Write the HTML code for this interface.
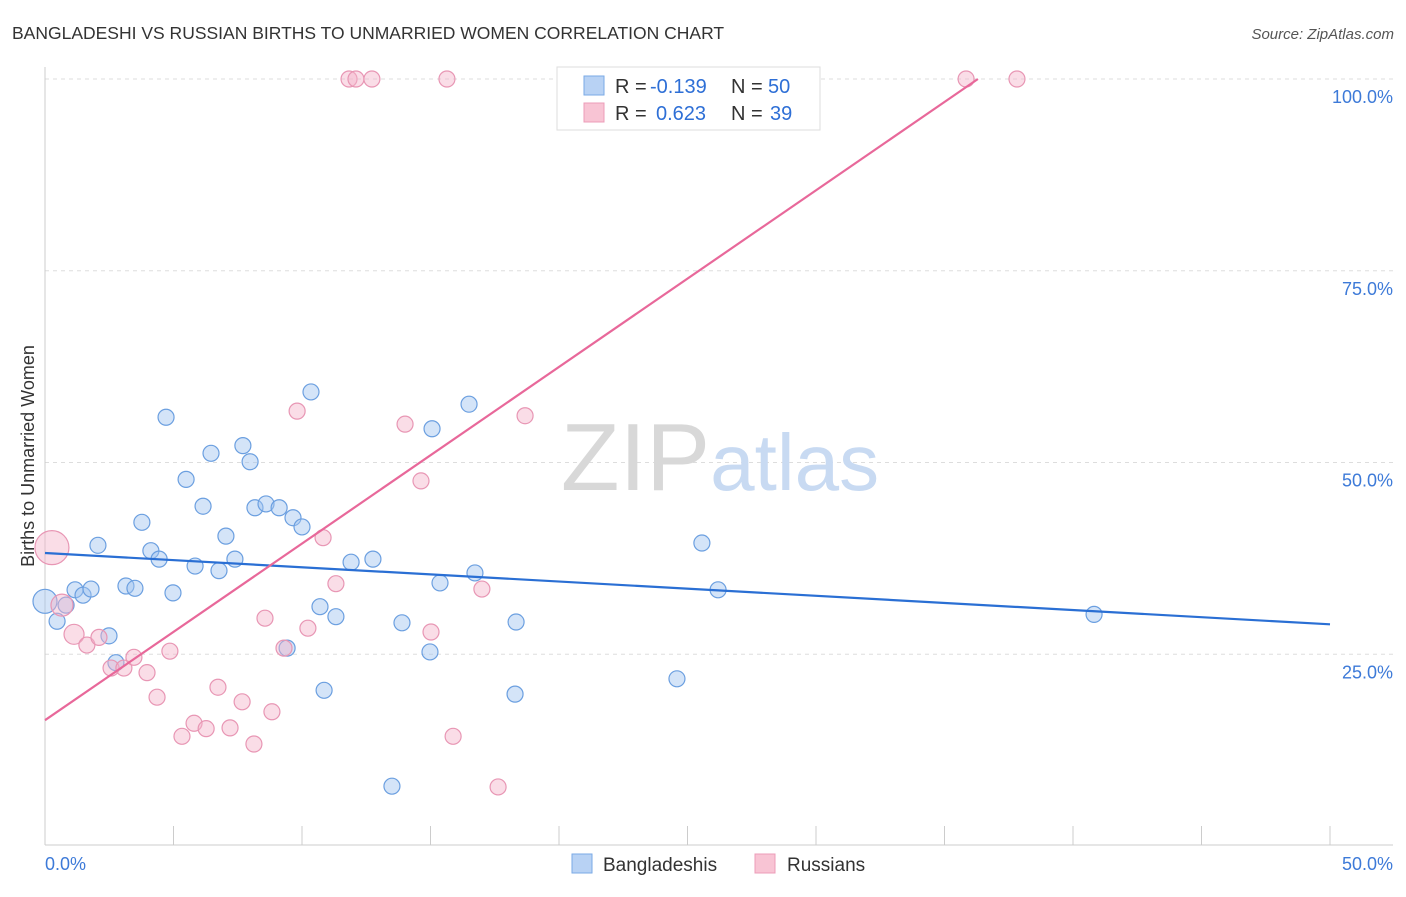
<!DOCTYPE html>
<html><head><meta charset="utf-8"><style>
body{margin:0;background:#fff;font-family:"Liberation Sans",sans-serif;}
svg text{font-family:"Liberation Sans",sans-serif;}
</style></head><body>
<svg id="chart" width="1406" height="892" xmlns="http://www.w3.org/2000/svg">
<text x="12" y="39" font-size="17.5" fill="#333">BANGLADESHI VS RUSSIAN BIRTHS TO UNMARRIED WOMEN CORRELATION CHART</text>
<text x="1394" y="39" font-size="15" fill="#555" text-anchor="end" font-style="italic">Source: ZipAtlas.com</text>
<g id="grid"></g>
<text x="720" y="490" font-size="96" text-anchor="middle" fill="#ddd" font-family="Liberation Serif"><tspan fill="#d8d8d8">ZIP</tspan><tspan fill="#c8daf2" font-family="Liberation Sans" font-size="80">atlas</tspan></text>
<g id="points"></g>
<g id="lines"></g>
<text transform="translate(34,456) rotate(-90)" font-size="18" fill="#333" text-anchor="middle">Births to Unmarried Women</text>
<g font-size="20">
<rect x="557" y="67" width="263" height="63" fill="#fff" stroke="#ddd"/>
<rect x="584" y="76" width="20" height="19" fill="#b8d2f4" stroke="#7aaae6"/>
<rect x="584" y="103" width="20" height="19" fill="#f8c4d4" stroke="#ec9cb8"/>
<text x="615" y="93" fill="#333">R =</text>
<text x="650" y="93" fill="#2e6fd6">-0.139</text>
<text x="731" y="93" fill="#333">N =</text>
<text x="768" y="93" fill="#2e6fd6">50</text>
<text x="615" y="120" fill="#333">R =</text>
<text x="656" y="120" fill="#2e6fd6">0.623</text>
<text x="731" y="120" fill="#333">N =</text>
<text x="770" y="120" fill="#2e6fd6">39</text>
</g>
<g>
<rect x="572" y="854" width="20" height="19" fill="#b8d2f4" stroke="#7aaae6"/>
<text x="603" y="871" font-size="19" fill="#333">Bangladeshis</text>
<rect x="755" y="854" width="20" height="19" fill="#f8c4d4" stroke="#ec9cb8"/>
<text x="787" y="871" font-size="19" fill="#333">Russians</text>
</g>
</svg>
<script>
const xTicks=[0,5,10,15,20,25,30,35,40,45,50];
const yTicks=[25,50,75,100];
const yTickLabels=["25.0%","50.0%","75.0%","100.0%"];
const xTickLabels=["0.0%","50.0%"];
const blueX=[0.0,0.47,0.82,1.17,1.48,1.79,2.06,2.49,2.76,3.15,3.50,3.77,4.12,4.44,4.71,4.98,5.49,5.84,6.15,6.46,6.77,7.04,7.39,7.70,7.98,8.17,8.60,9.11,9.42,9.65,10.0,10.35,10.70,10.86,11.32,11.91,12.76,13.50,13.89,14.98,15.06,15.37,16.50,16.73,18.29,18.33,24.59,25.56,26.19,40.82];
const blueY=[31.9,29.3,31.4,33.4,32.7,33.5,39.2,27.4,23.9,33.9,33.6,42.2,38.5,37.4,55.9,33.0,47.8,36.5,44.3,51.2,35.9,40.4,37.4,52.2,50.1,44.1,44.6,44.1,25.8,42.8,41.6,59.2,31.2,20.3,29.9,37.0,37.4,7.8,29.1,25.3,54.4,34.3,57.6,35.6,19.8,29.2,21.8,39.5,33.4,30.2];
const pinkX=[0.27,0.66,1.13,1.63,2.10,2.57,3.07,3.46,3.97,4.36,4.86,5.33,5.80,6.27,6.73,7.20,7.67,8.13,8.56,8.83,9.30,9.81,10.23,10.82,11.32,11.83,12.10,12.72,14.01,14.63,15.02,15.64,15.88,17.0,17.63,18.68,20.43,35.84,37.82];
const pinkY=[38.9,31.4,27.6,26.2,27.2,23.2,23.2,24.6,22.6,19.4,25.4,14.3,16.0,15.3,20.7,15.4,18.8,13.3,29.7,17.5,25.8,56.7,28.4,40.2,34.2,100,100,100,55.0,47.6,27.9,100,14.3,33.5,7.7,56.1,100,100,100];
const blueFit=[38.2,28.9];
const pinkFit=[16.4,100];
const pinkFitEndX=36.3;
const NS="http://www.w3.org/2000/svg";
const X=v=>45+v/50*1285, Y=v=>846-v/100*767;
function mk(t,a,p){const e=document.createElementNS(NS,t);for(const k in a)e.setAttribute(k,a[k]);p.appendChild(e);return e;}
const grid=document.getElementById('grid');
yTicks.forEach((t,i)=>{
 const l=mk('line',{x1:45,x2:1393,y1:Y(t),y2:Y(t),stroke:'#ddd','stroke-dasharray':'4,4'},grid);
 
 
 const tx=mk('text',{x:1393,y:Y(t)+24,'font-size':18,fill:'#3d7ad8','text-anchor':'end'},grid);
 tx.textContent=yTickLabels[i];
 
 
});
const ax=mk('line',{x1:45,x2:45,y1:67,y2:845,stroke:'#ccc'},grid);


const bx=mk('line',{x1:45,x2:1393,y1:845,y2:845,stroke:'#ccc'},grid);


xTicks.forEach(t=>{
 const l=mk('line',{x1:X(t),x2:X(t),y1:826,y2:845,stroke:'#ccc'},grid);
 
 
});
const xl0=mk('text',{x:45,y:870,'font-size':18,fill:'#3d7ad8'},grid);xl0.textContent=xTickLabels[0];


const xl1=mk('text',{x:1393,y:870,'font-size':18,fill:'#3d7ad8','text-anchor':'end'},grid);xl1.textContent=xTickLabels[1];


const pts=document.getElementById('points');
blueX.forEach((x,i)=>{
 const c=mk('circle',{cx:X(x),cy:Y(blueY[i]),r:i==0?12:8,fill:'rgba(160,195,240,0.45)',stroke:'#6b9fe0','stroke-width':1.2},pts);
 
 
});
pinkX.forEach((x,i)=>{
 const c=mk('circle',{cx:X(x),cy:Y(pinkY[i]),r:i==0?17:(i==1?11:(i==2?10:8)),fill:'rgba(245,180,202,0.45)',stroke:'#e896b4','stroke-width':1.2},pts);
 
 
});
const ln=document.getElementById('lines');
const b=mk('line',{x1:X(0),y1:Y(blueFit[0]),x2:X(50),y2:Y(blueFit[1]),stroke:'#2a6fd4','stroke-width':2.2},ln);


const p=mk('line',{x1:X(0),y1:Y(pinkFit[0]),x2:X(pinkFitEndX),y2:Y(pinkFit[1]),stroke:'#e8689a','stroke-width':2.2},ln);


</script>
</body></html>
